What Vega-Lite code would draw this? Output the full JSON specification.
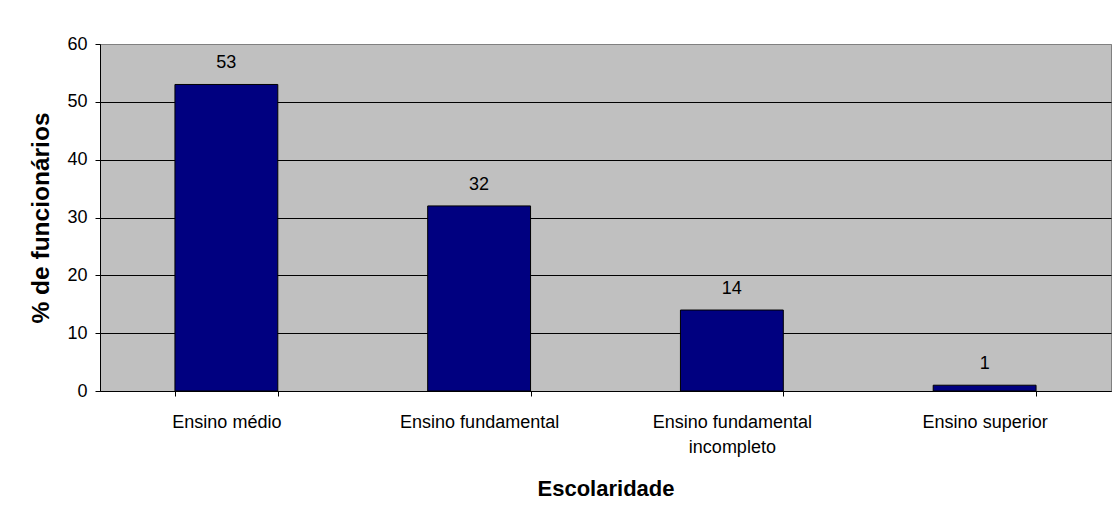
{
  "$schema": "https://vega.github.io/schema/vega-lite/v6.json",
  "width": 1011,
  "height": 347,
  "autosize": {"type": "none"},
  "padding": {"left": 100, "top": 44, "right": 4, "bottom": 132},
  "background": "white",
  "config": {
    "font": "Liberation Sans",
    "view": {"fill": "#C0C0C0", "stroke": "#808080", "strokeWidth": 1}
  },
  "data": {
    "values": [
      {"escolaridade": "Ensino médio", "pct": 53},
      {"escolaridade": "Ensino fundamental", "pct": 32},
      {"escolaridade": "Ensino fundamental incompleto", "pct": 14},
      {"escolaridade": "Ensino superior", "pct": 1}
    ]
  },
  "encoding": {
    "x": {
      "field": "escolaridade",
      "type": "nominal",
      "sort": null,
      "scale": {"paddingInner": 0.593, "paddingOuter": 0.2965},
      "axis": {
        "title": "Escolaridade",
        "titleFontSize": 22,
        "titleFontWeight": "bold",
        "titleColor": "black",
        "titlePadding": 22,
        "labelAngle": 0,
        "labelFontSize": 18,
        "labelColor": "black",
        "labelPadding": 17,
        "labelLineHeight": 25,
        "labelExpr": "datum.label == 'Ensino fundamental incompleto' ? ['Ensino fundamental', 'incompleto'] : datum.label",
        "tickBand": "extent",
        "tickSize": 5,
        "tickColor": "black",
        "domainColor": "black",
        "grid": false
      }
    },
    "y": {
      "field": "pct",
      "type": "quantitative",
      "scale": {"domain": [0, 60], "nice": false},
      "axis": {
        "title": "% de funcionários",
        "titleFontSize": 24.5,
        "titleFontWeight": "bold",
        "titleColor": "black",
        "titlePadding": 13,
        "values": [0, 10, 20, 30, 40, 50, 60],
        "labelFontSize": 18,
        "labelColor": "black",
        "labelPadding": 8,
        "tickSize": 5,
        "tickColor": "black",
        "domainColor": "black",
        "grid": true,
        "gridColor": {"condition": {"test": "datum.value == 60", "value": "#808080"}, "value": "black"},
        "gridOpacity": 1
      }
    }
  },
  "layer": [
    {
      "mark": {"type": "bar", "fill": "#000080", "stroke": "black", "strokeWidth": 1}
    },
    {
      "mark": {"type": "text", "fontSize": 18, "color": "black", "baseline": "alphabetic", "dy": -16},
      "encoding": {"text": {"field": "pct", "type": "quantitative"}}
    }
  ]
}
